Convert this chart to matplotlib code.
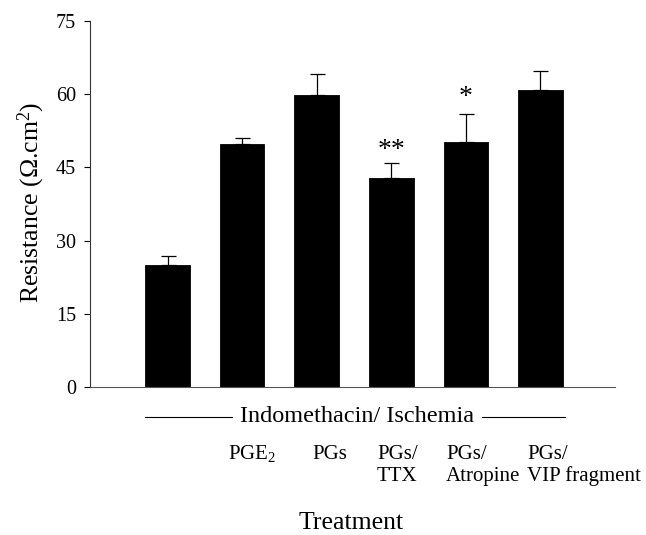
import matplotlib
matplotlib.use("Agg")
import matplotlib.pyplot as plt
from matplotlib.transforms import blended_transform_factory

plt.rcParams['font.family'] = ['Liberation Serif', 'DejaVu Serif']
plt.rcParams['mathtext.fontset'] = 'custom'
plt.rcParams['mathtext.rm'] = 'Liberation Serif'
plt.rcParams['mathtext.it'] = 'Liberation Serif:italic'

# ---- data ----
categories = ["", "PGE$_2$", "PGs", "PGs/\nTTX", "PGs/\nAtropine", "PGs/\nVIP fragment"]
values = [25.0, 49.8, 59.9, 42.8, 50.3, 60.8]
errors = [1.8, 1.2, 4.2, 3.2, 5.6, 3.9]
significance = ["", "", "", "**", "*", ""]
yticks = [0, 15, 30, 45, 60, 75]
group_label = "Indomethacin/ Ischemia"
xlabel = "Treatment"
ylabel = "Resistance (\u03a9.cm$^2$)"

# ---- layout ----
W, H = 646, 535
fig = plt.figure(figsize=(W / 100, H / 100), dpi=100)
ax_l, ax_r, ax_b, ax_t = 90, 615, 387, 21
ax = fig.add_axes([ax_l / W, 1 - ax_b / H, (ax_r - ax_l) / W, (ax_b - ax_t) / H])

def ay(py):
    return (ax_b - py) / (ax_b - ax_t)

x = list(range(len(values)))
ax.bar(x, values, width=0.6, color='black', edgecolor='black', linewidth=0.6, zorder=2)
ax.errorbar(x, values, yerr=[[0] * len(errors), errors], fmt='none', ecolor='black',
            elinewidth=0.9, capsize=5.4, capthick=0.9, zorder=1)

ax.set_xlim(-1.039, 5.999)
ax.set_ylim(0, 75)
ax.set_yticks(yticks)
ax.set_yticklabels([str(t) for t in yticks], fontsize=14.5)
ax.set_xticks([])
for s in ['top', 'right']:
    ax.spines[s].set_visible(False)
ax.spines['left'].set_linewidth(0.8)
ax.spines['bottom'].set_linewidth(0.8)
ax.spines['left'].set_color('#333333')
ax.spines['bottom'].set_color('#555555')
ax.tick_params(axis='y', direction='out', length=4, width=0.8, pad=6)

# significance marks (gap above the error bar, in data units)
sig_gap = [0, 0, 0, 1.1, 2.1, 0]
for i, s in enumerate(significance):
    if s:
        ax.text(i, values[i] + errors[i] + sig_gap[i], s, ha='center', va='baseline',
                fontsize=20)

trans = blended_transform_factory(ax.transData, ax.transAxes)

# group label with lines
gy = ay(417)
ax.text(2.54, gy, group_label, transform=trans, ha='center', va='center',
        fontsize=17.5, clip_on=False)
ax.plot([-0.30, 0.86], [gy, gy], transform=trans, color='black', lw=0.8, clip_on=False)
ax.plot([4.21, 5.33], [gy, gy], transform=trans, color='black', lw=0.8, clip_on=False)

# category labels
label_offsets = [0.0, -0.19, -0.063, -0.193, -0.267, -0.181]
base1 = ay(459)
base2 = ay(481)
for i, lab in enumerate(categories):
    if not lab:
        continue
    lines = lab.split("\n")
    ax.text(i + label_offsets[i], base1, lines[0], transform=trans, ha='left',
            va='baseline', fontsize=15, clip_on=False)
    if len(lines) > 1:
        ax.text(i + label_offsets[i], base2, lines[1], transform=trans, ha='left',
                va='baseline', fontsize=15, clip_on=False)

# axis titles
ax.text(2.466, ay(529), xlabel, transform=trans, ha='center', va='baseline',
        fontsize=18.5, clip_on=False)
ax.text((31 - ax_l) / (ax_r - ax_l), ay(202), ylabel, transform=ax.transAxes,
        rotation=90, ha='center', va='center', fontsize=18.5, clip_on=False)

fig.savefig("out.png", dpi=100)
